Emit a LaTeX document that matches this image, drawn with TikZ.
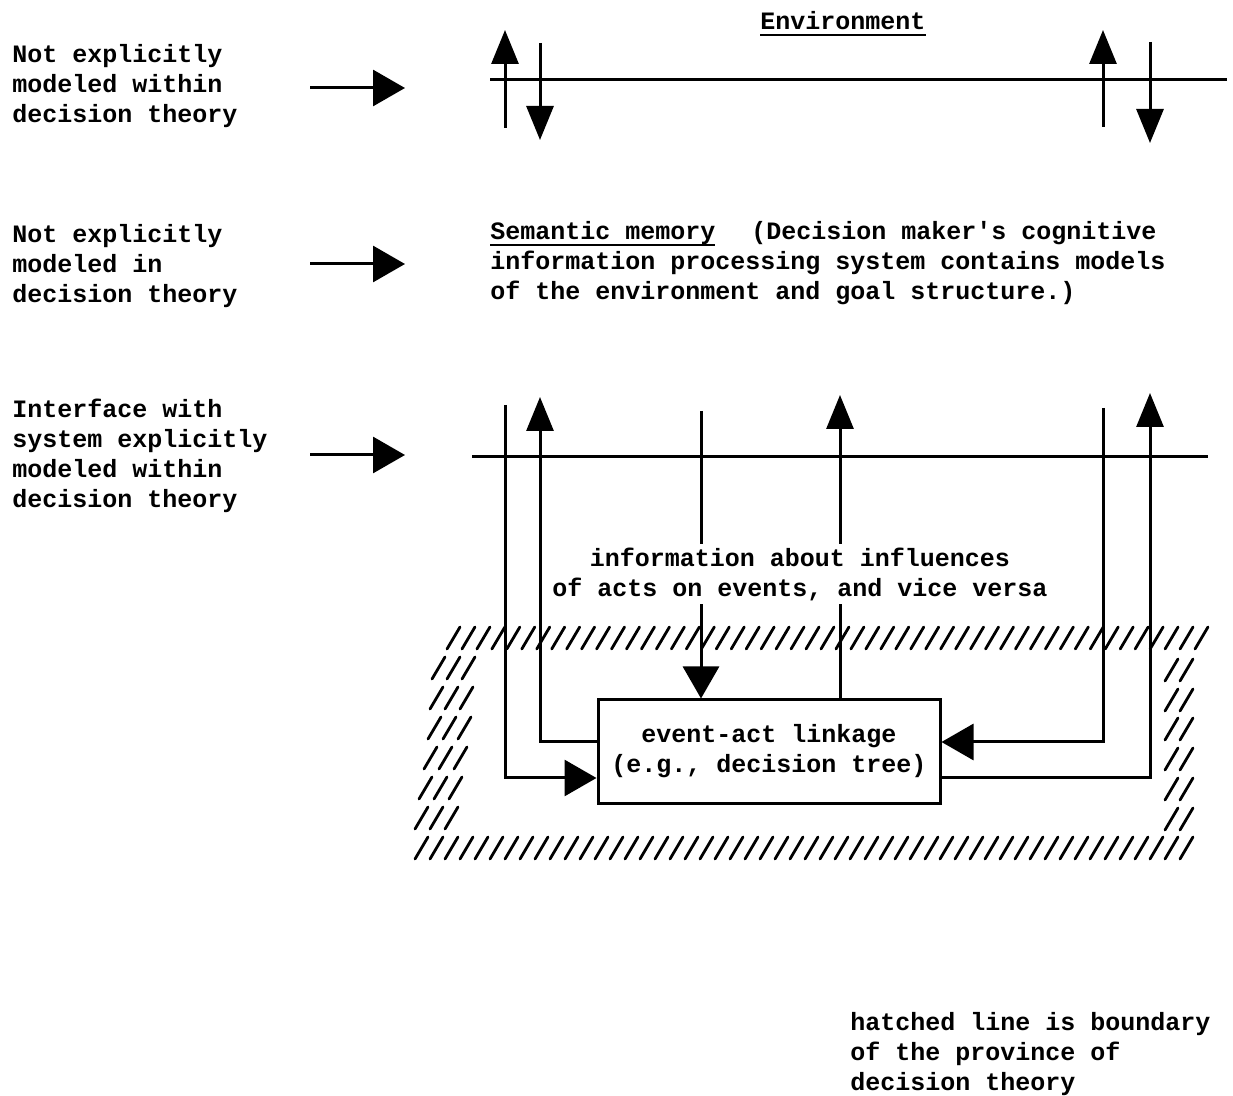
\documentclass[tikz,border=0pt]{standalone}
\usepackage{fontspec}
\setmonofont{Liberation Mono}
\usetikzlibrary{arrows.meta}
\newcommand\lbfont{\ttfamily\bfseries\fontsize{12.5}{15}\selectfont}
\newcommand\ulword[1]{\setbox0\hbox{#1}\rlap{\rule[-3pt]{\wd0}{1pt}}\box0}

\begin{document}
\begin{tikzpicture}[x=0.5pt,y=-0.5pt,
  lbl/.style={font=\lbfont,align=left,inner sep=0pt,anchor=base west},
  wire/.style={line width=1.5pt},
  slim/.style={wire,-{Triangle[length=17pt,width=13.5pt]}},
  fat/.style={wire,-{Triangle[length=16pt,width=18pt]}},
  hatch/.style={line width=1.4pt,line cap=round},
  linkbox/.style={draw,line width=1.5pt,font=\lbfont,align=center,
    minimum width=171pt,minimum height=51.5pt,inner sep=0pt}
]
  \useasboundingbox (0,0) rectangle (1233,1096);
  \fill[white] (0,0) rectangle (1233,1096);

  % level labels on the left (base = last line)
  \node[lbl] (lvl1) at (12,123) {Not explicitly\\modeled within\\decision theory};
  \node[lbl] (lvl2) at (12,303) {Not explicitly\\modeled in\\decision theory};
  \node[lbl] (lvl3) at (12,508) {Interface with\\system explicitly\\modeled within\\decision theory};
  \coordinate (p1) at (310,88);  \coordinate (q1) at (405,88);
  \coordinate (p2) at (310,264); \coordinate (q2) at (405,264);
  \coordinate (p3) at (310,455); \coordinate (q3) at (405,455);
  \draw[fat] (p1) -- (q1);
  \draw[fat] (p2) -- (q2);
  \draw[fat] (p3) -- (q3);

  % environment level
  \node[lbl,anchor=base] (env) at (843,30) {\ulword{Environment}};
  \coordinate (envL) at (490,80); \coordinate (envR) at (1227,80);
  \draw[wire] (envL) -- (envR);
  \coordinate (ea1) at (505,128);  \coordinate (eb1) at (505,30);
  \coordinate (ea2) at (540,43);   \coordinate (eb2) at (540,140);
  \coordinate (ea3) at (1103,127); \coordinate (eb3) at (1103,30);
  \coordinate (ea4) at (1150,42);  \coordinate (eb4) at (1150,143);
  \draw[slim] (ea1) -- (eb1);
  \draw[slim] (ea2) -- (eb2);
  \draw[slim] (ea3) -- (eb3);
  \draw[slim] (ea4) -- (eb4);

  % semantic memory level
  \node[lbl] (sem) at (490,300) {\ulword{Semantic memory}\hspace{18pt}(Decision maker's cognitive\\
    information processing system contains models\\of the environment and goal structure.)};

  % interface level
  \coordinate (midL) at (472,457); \coordinate (midR) at (1208,457);
  \draw[wire] (midL) -- (midR);
  \node[lbl,anchor=center,align=center,minimum height=30pt] (info) at (800,574)
    {information about influences\\of acts on events, and vice versa};
  \node[linkbox] (link) at (769,751.5) {event-act linkage\\(e.g., decision tree)};
  \coordinate (uprow) at (0,742); \coordinate (lowrow) at (0,778);
  \coordinate (s1) at (505,405);  \coordinate (s2) at (540,397);
  \coordinate (s3) at (701,411);  \coordinate (s4) at (840,395);
  \coordinate (s5) at (1103,408); \coordinate (s6) at (1150,393);
  \draw[fat]  (s1) |- (link.west |- lowrow);
  \draw[slim] (link.west |- uprow) -| (s2);
  \draw[wire] (s3) -- (s3 |- info.north);
  \draw[fat]  (s3 |- info.south) -- (s3 |- link.north);
  \draw[wire] (s4 |- link.north) -- (s4 |- info.south);
  \draw[slim] (s4 |- info.north) -- (s4);
  \draw[fat]  (s5) |- (link.east |- uprow);
  \draw[slim] (link.east |- lowrow) -| (s6);

  % hatched boundary
  \foreach \k in {0,...,50} \draw[hatch] ({447+14.96*\k},649) -- ++(13,-22);
  \foreach \k in {0,...,51} \draw[hatch] ({415+15*\k},859) -- ++(13,-22);
  \foreach \bx/\cy in {432/668,430/698,428/728,424/758,419/788,415/818}
    \foreach \j in {0,1,2} \draw[hatch] ({\bx+15*\j},{\cy+11}) -- ++(13,-22);
  \foreach \cy in {670,700,729,759,789,819}
    \foreach \j in {0,1} \draw[hatch] ({1165+15*\j},{\cy+11}) -- ++(13,-22);

  \node[lbl] (note) at (850,1090) {hatched line is boundary\\of the province of\\decision theory};
\end{tikzpicture}
\end{document}
